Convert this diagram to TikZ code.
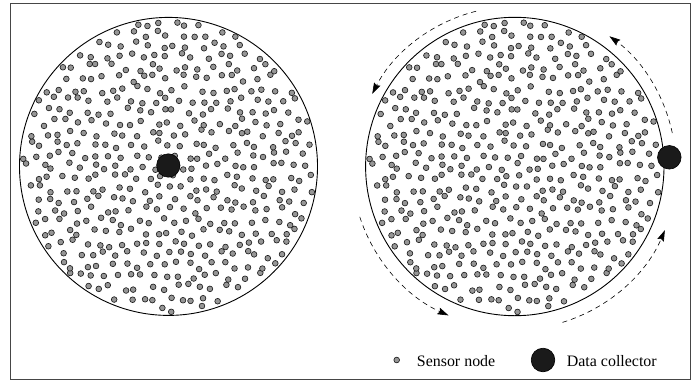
\documentclass[tikz,border=0pt]{standalone}
\usepackage{fontspec}
\setmainfont{Liberation Serif}
\usepackage{xcolor}
\definecolor{dotgray}{RGB}{150,150,150}
\definecolor{dotedge}{RGB}{30,30,30}
\definecolor{collector}{RGB}{26,26,26}
\definecolor{framegray}{RGB}{70,70,70}
\usetikzlibrary{arrows.meta, positioning}

\tikzset{
  sensor/.style={fill=dotgray, draw=dotedge, line width=0.65bp},
  sink/.style={fill=collector, draw=black, line width=0.6bp},
  field/.style={draw=black, line width=0.9bp},
  tour/.style={line width=0.6bp, dash pattern=on 5bp off 4bp,
    -{Stealth[length=11bp, width=7bp, inset=1.5bp]}},
  legendtext/.style={font=\fontsize{16}{19}\selectfont, inner sep=0pt, anchor=base west}
}

% jittered deployment of sensors inside a disc (same seed -> same field)
\newcommand{\sensorfield}[1]{%
  \pgfmathsetseed{1357}%
  \begin{scope}[shift={(#1)}]
  \foreach \i in {-13,...,13}{%
    \foreach \j in {-15,...,15}{%
      \pgfmathsetmacro{\px}{(\i+0.5*abs(mod(\j,2)))*12.7+3.9*rand}%
      \pgfmathsetmacro{\py}{\j*11+3.9*rand}%
      \pgfmathtruncatemacro{\inside}{veclen(\px,\py)<146 ? 1 : 0}%
      \ifnum\inside=1
        \draw[sensor] (\px,\py) circle (2.85);
      \fi
    }%
  }%
  \end{scope}%
}

\begin{document}
\begin{tikzpicture}[x=1bp, y=1bp]
  \useasboundingbox (0,0) rectangle (699,381);

  % Frame
  \draw[framegray, line width=1bp] (10,1.5) rectangle (690,377.7);

  % --- Left field: static collector in the centre ---
  \coordinate (lc) at (168.5,214.6);
  \draw[field] (lc) circle (149);
  \sensorfield{lc}
  \fill[sink] (168.3,215.5) circle (11.7);

  % --- Right field: collector moving along the border ---
  \coordinate (rc) at (514.8,214.5);
  \draw[field] (rc) circle (149.2);
  \sensorfield{rc}
  \fill[sink] (669.3,223.7) circle (11.8);

  % Tour of the collector
  \draw[tour, shift={(rc)}] (12:161) arc (12:54:161);
  \draw[tour, shift={(rc)}] (104:160) arc (104:153:160);
  \draw[tour, shift={(rc)}] (198:163) arc (198:246:163);
  \draw[tour, shift={(rc)}] (-73:163) arc (-73:-23:163);

  % Legend
  \draw[sensor] (396.7,21) circle (2.85);
  \node[legendtext] (sensorlbl) at (416.7,15) {Sensor node};
  \fill[sink] (543,21) circle (11.8);
  \node[legendtext] (collectorlbl) at (566.7,15) {Data collector};
\end{tikzpicture}
\end{document}
